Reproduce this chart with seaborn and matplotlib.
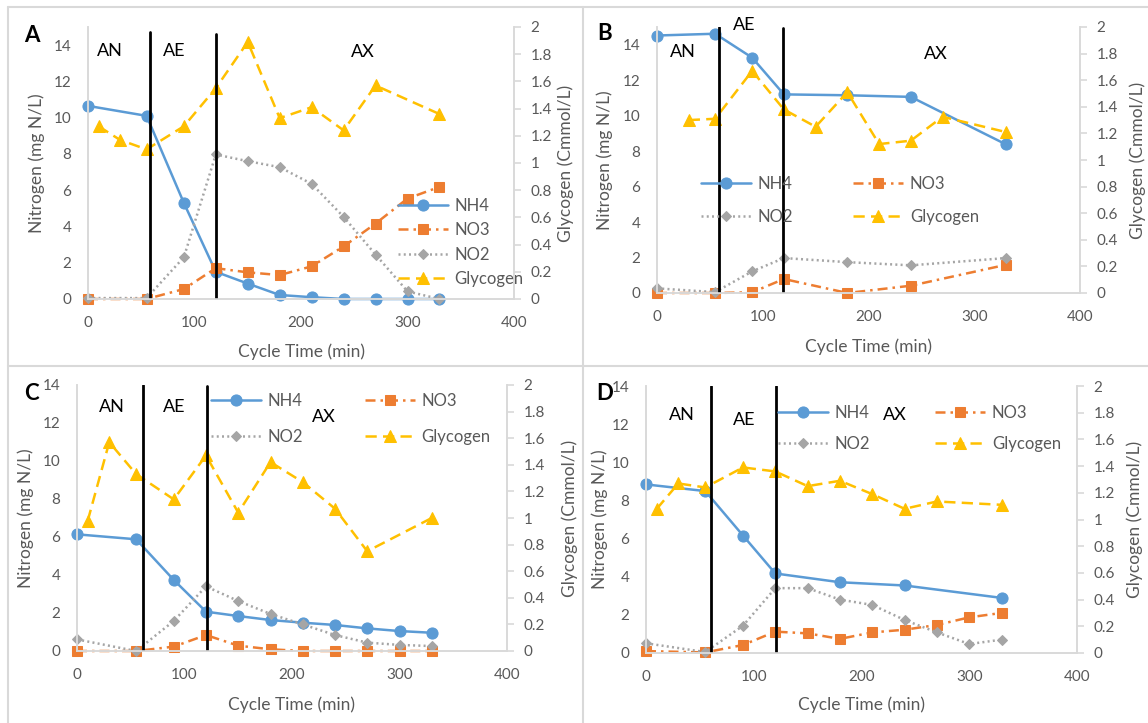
import matplotlib
matplotlib.use("Agg")
import matplotlib.pyplot as plt
import seaborn as sns
from matplotlib.lines import Line2D
from matplotlib.ticker import FuncFormatter, MultipleLocator

# ---- values ----
# Panel A
a_time = [0, 55, 90, 120, 150, 180, 210, 240, 270, 300, 330]
a_nh4 = [10.65, 10.1, 5.3, 1.5, 0.85, 0.22, 0.1, 0.0, 0.0, 0.0, 0.0]
a_no3 = [0.0, 0.0, 0.55, 1.7, 1.47, 1.32, 1.8, 2.9, 4.16, 5.54, 6.18]
a_no2 = [0.05, 0.05, 2.3, 7.97, 7.6, 7.27, 6.35, 4.53, 2.45, 0.42, 0.0]
a_gly_time = [10, 30, 55, 90, 120, 150, 180, 210, 240, 270, 330]
a_gly = [1.27, 1.17, 1.10, 1.27, 1.55, 1.89, 1.33, 1.41, 1.24, 1.57, 1.36]

# Panel B
b_time = [0, 55, 90, 120, 180, 240, 330]
b_nh4 = [14.52, 14.62, 13.27, 11.2, 11.15, 11.06, 8.38]
b_no3 = [0.0, 0.0, 0.04, 0.79, 0.0, 0.41, 1.59]
b_no2 = [0.26, 0.05, 1.22, 1.97, 1.74, 1.56, 1.97]
b_gly_time = [30, 55, 90, 120, 150, 180, 210, 240, 270, 330]
b_gly = [1.30, 1.31, 1.67, 1.38, 1.25, 1.51, 1.12, 1.145, 1.325, 1.21]

# Panel C
c_time = [0, 55, 90, 120, 150, 180, 210, 240, 270, 300, 330]
c_nh4 = [6.14, 5.88, 3.74, 2.07, 1.84, 1.63, 1.49, 1.37, 1.19, 1.05, 0.96]
c_no3 = [0.0, 0.0, 0.23, 0.84, 0.28, 0.09, 0.0, 0.0, 0.0, 0.0, 0.0]
c_no2 = [0.61, 0.0, 1.58, 3.4, 2.63, 1.95, 1.4, 0.84, 0.44, 0.32, 0.26]
c_gly_time = [10, 30, 55, 90, 120, 150, 180, 210, 240, 270, 330]
c_gly = [0.98, 1.57, 1.33, 1.14, 1.47, 1.04, 1.42, 1.27, 1.07, 0.75, 1.0]

# Panel D
d_time = [0, 55, 90, 120, 150, 180, 210, 240, 270, 300, 330]
d_nh4_time = [0, 55, 90, 120, 180, 240, 330]
d_nh4 = [8.84, 8.49, 6.16, 4.17, 3.71, 3.54, 2.89]
d_no3 = [0.1, 0.03, 0.42, 1.12, 1.03, 0.74, 1.08, 1.22, 1.47, 1.87, 2.1]
d_no2 = [0.51, 0.05, 1.43, 3.4, 3.4, 2.8, 2.52, 1.73, 1.08, 0.47, 0.7]
d_gly_time = [10, 30, 55, 90, 120, 150, 180, 210, 240, 270, 330]
d_gly = [1.08, 1.27, 1.24, 1.39, 1.36, 1.25, 1.29, 1.19, 1.08, 1.135, 1.11]

# phase boundaries (min)
a_bounds = [58, 120]
b_bounds = [59, 119.5]
c_bounds = [61.5, 121]
d_bounds = [60, 121]
phase_names = ["AN", "AE", "AX"]

series_names = ["NH4", "NO3", "NO2", "Glycogen"]

BLUE, ORANGE, GREY, GOLD = "#5B9BD5", "#ED7D31", "#A5A5A5", "#FFC000"
TXT = "#595959"
AXC = "#D9D9D9"
W, H = 1148, 723

sns.set_theme(style="white")
plt.rcParams['font.family'] = ['Lato', 'DejaVu Sans']

fig = plt.figure(figsize=(W / 100, H / 100), dpi=100)


def fx(px):
    return px / W


def fy(py):
    return 1 - py / H


# light grey panel frames
for y in (7, 366):
    fig.add_artist(Line2D([fx(8), 1], [fy(y), fy(y)], transform=fig.transFigure, color=AXC, lw=1.5))
for x in (8, 583):
    fig.add_artist(Line2D([fx(x), fx(x)], [fy(7), 0], transform=fig.transFigure, color=AXC, lw=1.5))


def panel(rect, ymax, letter, letter_xy, t_nh4, nh4, t_n, no3, no2, t_g, gly,
          bounds, bound_tops, phase_xy, ylab_x, y2lab_x, xlab_y,
          leg_xy, ncol, lspace, cspace):
    l, t, r, b = rect
    ax = fig.add_axes([fx(l), fy(b), (r - l) / W, (b - t) / H])
    ax2 = ax.twinx()

    sns.lineplot(x=t_nh4, y=nh4, ax=ax, color=BLUE, lw=1.8, marker="o", ms=8,
                 markeredgecolor=BLUE, linestyle="-", clip_on=False)
    h_nh4 = ax.lines[-1]
    sns.lineplot(x=t_n, y=no3, ax=ax, color=ORANGE, lw=1.8, marker="s", ms=7.5,
                 markeredgecolor=ORANGE, linestyle=(0, (4, 2, 1, 2)), clip_on=False)
    h_no3 = ax.lines[-1]
    sns.lineplot(x=t_n, y=no2, ax=ax, color=GREY, lw=1.8, marker="D", ms=5.5,
                 markeredgecolor=GREY, linestyle=(0, (0.8, 1.3)), clip_on=False)
    h_no2 = ax.lines[-1]
    sns.lineplot(x=t_g, y=gly, ax=ax2, color=GOLD, lw=1.8, marker="^", ms=9,
                 markeredgecolor=GOLD, linestyle=(0, (4.5, 2.5)), clip_on=False)
    h_gly = ax2.lines[-1]

    for xb, top in zip(bounds, bound_tops):
        ax2.axvline(xb, ymin=0, ymax=top, color="black", lw=2)

    for name, (px_, py_) in zip(phase_names, phase_xy):
        ax.text(px_, py_, name, ha="center", va="center", fontsize=13, color="black")

    ax.set_xlim(0, 400)
    ax.set_ylim(0, ymax)
    ax2.set_ylim(0, 2)
    ax.xaxis.set_major_locator(MultipleLocator(100))
    ax.set_yticks(range(0, 15, 2))
    ax2.set_yticks([i / 5 for i in range(11)])
    ax2.yaxis.set_major_formatter(FuncFormatter(lambda v, p: f"{v:g}"))

    for a in (ax, ax2):
        a.set_facecolor("none")
        a.spines["top"].set_visible(False)
        for s in ("left", "right", "bottom"):
            a.spines[s].set_color(AXC)
            a.spines[s].set_linewidth(1.2)
    ax.tick_params(axis="x", length=0, pad=12, labelsize=11, labelcolor=TXT)
    ax.tick_params(axis="y", length=0, pad=12, labelsize=11, labelcolor=TXT)
    ax2.tick_params(axis="y", length=5, width=1.2, color=AXC, pad=7, labelsize=11, labelcolor=TXT)

    ymid = (t + b) / 2
    fig.text(fx(ylab_x), fy(ymid), "Nitrogen (mg N/L)", rotation=90, rotation_mode="anchor",
             ha="center", va="center", fontsize=12.5, color=TXT)
    fig.text(fx(y2lab_x), fy(ymid), "Glycogen (Cmmol/L)", rotation=90, rotation_mode="anchor",
             ha="center", va="center", fontsize=12.5, color=TXT)
    fig.text(fx((l + r) / 2), fy(xlab_y), "Cycle Time (min)", ha="center", va="center",
             fontsize=12.5, color=TXT)

    fig.text(fx(letter_xy[0]), fy(letter_xy[1]), letter, fontsize=16, fontweight="bold",
             color="black", ha="center", va="center")

    if ncol == 1:
        handles = [h_nh4, h_no3, h_no2, h_gly]
        labels = series_names
    else:
        handles = [h_nh4, h_no2, h_no3, h_gly]
        labels = [series_names[0], series_names[2], series_names[1], series_names[3]]
    fig.legend(handles, labels, loc="upper left", bbox_to_anchor=(fx(leg_xy[0]), fy(leg_xy[1])),
               bbox_transform=fig.transFigure, frameon=False, ncol=ncol, borderpad=0,
               borderaxespad=0, fontsize=12, labelcolor=TXT, handlelength=3.0,
               handletextpad=0.4, labelspacing=lspace, columnspacing=cspace)


panel((88, 27, 514, 299), 15, "A", (32, 35), a_time, a_nh4, a_time, a_no3, a_no2,
      a_gly_time, a_gly, a_bounds, [0.98, 0.975], [(21, 13.7), (81, 13.7), (258, 13.6)],
      37, 566, 352, (398, 198), 1, 0.5, 0)
panel((657, 27, 1080, 293), 15, "B", (605, 33), b_time, b_nh4, b_time, b_no3, b_no2,
      b_gly_time, b_gly, b_bounds, [1.0, 0.995], [(24, 13.6), (82, 15.1), (264, 13.45)],
      605, 1138, 347, (701, 176), 2, 1.0, 3.6)
panel((77, 385, 507, 651), 14, "C", (31, 394), c_time, c_nh4, c_time, c_no3, c_no2,
      c_gly_time, c_gly, c_bounds, [1.0, 0.995], [(32, 12.86), (90.6, 12.86), (230, 12.3)],
      26, 570, 705, (211, 393), 2, 1.2, 3.7)
panel((646, 386, 1077, 653), 14, "D", (605, 394), d_nh4_time, d_nh4, d_time, d_no3, d_no2,
      d_gly_time, d_gly, d_bounds, [1.0, 1.0], [(33, 12.5), (91, 12.2), (231, 12.5)],
      600, 1135, 705, (778, 405), 2, 0.9, 3.9)

fig.savefig("out.png", dpi=100, facecolor="white")
